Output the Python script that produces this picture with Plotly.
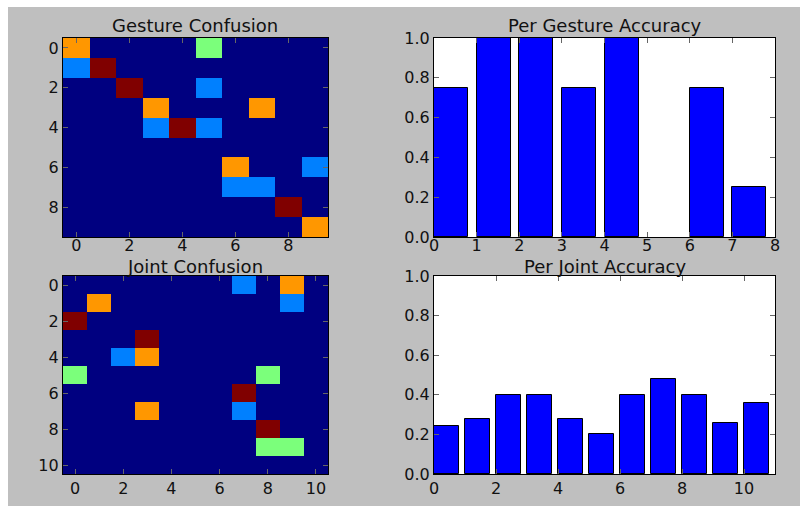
import numpy as np
import plotly.graph_objects as go

# ---- data -------------------------------------------------------------
gesture_confusion = [
    [3, 0, 0, 0, 0, 2, 0, 0, 0, 0],
    [1, 4, 0, 0, 0, 0, 0, 0, 0, 0],
    [0, 0, 4, 0, 0, 1, 0, 0, 0, 0],
    [0, 0, 0, 3, 0, 0, 0, 3, 0, 0],
    [0, 0, 0, 1, 4, 1, 0, 0, 0, 0],
    [0, 0, 0, 0, 0, 0, 0, 0, 0, 0],
    [0, 0, 0, 0, 0, 0, 3, 0, 0, 1],
    [0, 0, 0, 0, 0, 0, 1, 1, 0, 0],
    [0, 0, 0, 0, 0, 0, 0, 0, 4, 0],
    [0, 0, 0, 0, 0, 0, 0, 0, 0, 3],
]

joint_confusion = [
    [0, 0, 0, 0, 0, 0, 0, 1, 0, 3, 0],
    [0, 3, 0, 0, 0, 0, 0, 0, 0, 1, 0],
    [4, 0, 0, 0, 0, 0, 0, 0, 0, 0, 0],
    [0, 0, 0, 4, 0, 0, 0, 0, 0, 0, 0],
    [0, 0, 1, 3, 0, 0, 0, 0, 0, 0, 0],
    [2, 0, 0, 0, 0, 0, 0, 0, 2, 0, 0],
    [0, 0, 0, 0, 0, 0, 0, 4, 0, 0, 0],
    [0, 0, 0, 3, 0, 0, 0, 1, 0, 0, 0],
    [0, 0, 0, 0, 0, 0, 0, 0, 4, 0, 0],
    [0, 0, 0, 0, 0, 0, 0, 0, 2, 2, 0],
    [0, 0, 0, 0, 0, 0, 0, 0, 0, 0, 0],
]

gesture_ids = [0, 1, 2, 3, 4, 5, 6, 7]
gesture_accuracy = [0.75, 1.0, 1.0, 0.75, 1.0, 0.0, 0.75, 0.25]

joint_ids = [0, 1, 2, 3, 4, 5, 6, 7, 8, 9, 10]
joint_accuracy = [0.24, 0.28, 0.40, 0.40, 0.28, 0.20, 0.40, 0.48, 0.40, 0.26, 0.36]

accuracy_ticks = [0.0, 0.2, 0.4, 0.6, 0.8, 1.0]

# ---- matplotlib-style "jet" colormap ----------------------------------
def jet_scale(n=41):
    r_pts = ([0, 0.35, 0.66, 0.89, 1], [0, 0, 1, 1, 0.5])
    g_pts = ([0, 0.125, 0.375, 0.64, 0.91, 1], [0, 0, 1, 1, 0, 0])
    b_pts = ([0, 0.11, 0.34, 0.65, 1], [0.5, 1, 1, 0, 0])
    scale = []
    for v in np.linspace(0, 1, n):
        r = np.interp(v, *r_pts)
        g = np.interp(v, *g_pts)
        b = np.interp(v, *b_pts)
        scale.append([float(v), f"rgb({int(round(r*255))},{int(round(g*255))},{int(round(b*255))})"])
    return scale

JET = jet_scale()

W, H = 800, 506
def dx(a, b):
    return [a / W, b / W]
def dy(top, bottom):
    return [1 - bottom / H, 1 - top / H]

LEFT_X = dx(63, 328)
RIGHT_X = dx(434, 775)
TOP_Y = dy(38, 237)
BOT_Y = dy(276, 474)

FONT = "DejaVu Sans"
tickfont = dict(family=FONT, size=16, color="#111")


def bar_outline(values):
    # empty bars get no outline so they vanish into the baseline
    return [1 if v > 0 else 0 for v in values]


fig = go.Figure()

fig.add_trace(go.Heatmap(z=gesture_confusion, colorscale=JET, zmin=0, zmax=4,
                         showscale=False, xaxis="x", yaxis="y"))
fig.add_trace(go.Bar(x=gesture_ids, y=gesture_accuracy, width=0.8, offset=0,
                     marker=dict(color="#0000ff",
                                 line=dict(color="#000", width=bar_outline(gesture_accuracy))),
                     xaxis="x2", yaxis="y2"))
fig.add_trace(go.Heatmap(z=joint_confusion, colorscale=JET, zmin=0, zmax=4,
                         showscale=False, xaxis="x3", yaxis="y3"))
fig.add_trace(go.Bar(x=joint_ids, y=joint_accuracy, width=0.8, offset=0,
                     marker=dict(color="#0000ff",
                                 line=dict(color="#000", width=bar_outline(joint_accuracy))),
                     xaxis="x4", yaxis="y4"))

common = dict(showgrid=False, zeroline=False, showline=True, linecolor="#000",
              linewidth=1.2, mirror="ticks", ticks="inside", ticklen=5,
              tickcolor="#666", tickwidth=1, tickfont=tickfont, automargin=False)

n_g = len(gesture_confusion)
n_j = len(joint_confusion)

fig.update_layout(
    width=W, height=H,
    margin=dict(l=0, r=0, t=0, b=0, pad=0, autoexpand=False),
    paper_bgcolor="#bfbfbf",
    plot_bgcolor="white",
    showlegend=False,
    bargap=0,
    xaxis=dict(domain=LEFT_X, anchor="y", range=[-0.5, n_g - 0.5],
               tickvals=list(range(0, n_g, 2)), ticklabelstandoff=-6, **common),
    yaxis=dict(domain=TOP_Y, anchor="x", range=[n_g - 0.5, -0.5],
               tickvals=list(range(0, n_g, 2)), **common),
    xaxis2=dict(domain=RIGHT_X, anchor="y2", range=[0, len(gesture_ids)],
                tickvals=list(range(0, len(gesture_ids) + 1)), ticklabelstandoff=-6, **common),
    yaxis2=dict(domain=TOP_Y, anchor="x2", range=[0, 1],
                tickvals=accuracy_ticks, tickformat=".1f", **common),
    xaxis3=dict(domain=LEFT_X, anchor="y3", range=[-0.5, n_j - 0.5],
                tickvals=list(range(0, n_j, 2)), **common),
    yaxis3=dict(domain=BOT_Y, anchor="x3", range=[n_j - 0.5, -0.5],
                tickvals=list(range(0, n_j, 2)), **common),
    xaxis4=dict(domain=RIGHT_X, anchor="y4", range=[0, len(joint_ids)],
                tickvals=list(range(0, len(joint_ids) + 1, 2)), **common),
    yaxis4=dict(domain=BOT_Y, anchor="x4", range=[0, 1],
                tickvals=accuracy_ticks, tickformat=".1f", **common),
)

# white page strips along the top and left edges
fig.add_shape(type="rect", xref="paper", yref="paper", layer="below",
              x0=0, x1=1, y0=1 - 7 / H, y1=1, fillcolor="white", line=dict(width=0))
fig.add_shape(type="rect", xref="paper", yref="paper", layer="below",
              x0=0, x1=8 / W, y0=0, y1=1, fillcolor="white", line=dict(width=0))

titles = [
    ("Gesture Confusion", sum(LEFT_X) / 2, 25),
    ("Per Gesture Accuracy", sum(RIGHT_X) / 2, 25),
    ("Joint Confusion", sum(LEFT_X) / 2, 266),
    ("Per Joint Accuracy", sum(RIGHT_X) / 2, 266),
]
for text, xc, yc in titles:
    fig.add_annotation(text=text, x=xc, y=1 - yc / H, xref="paper", yref="paper",
                       showarrow=False, xanchor="center", yanchor="middle",
                       font=dict(family=FONT, size=18, color="#111"))

fig.write_html("out.html")
